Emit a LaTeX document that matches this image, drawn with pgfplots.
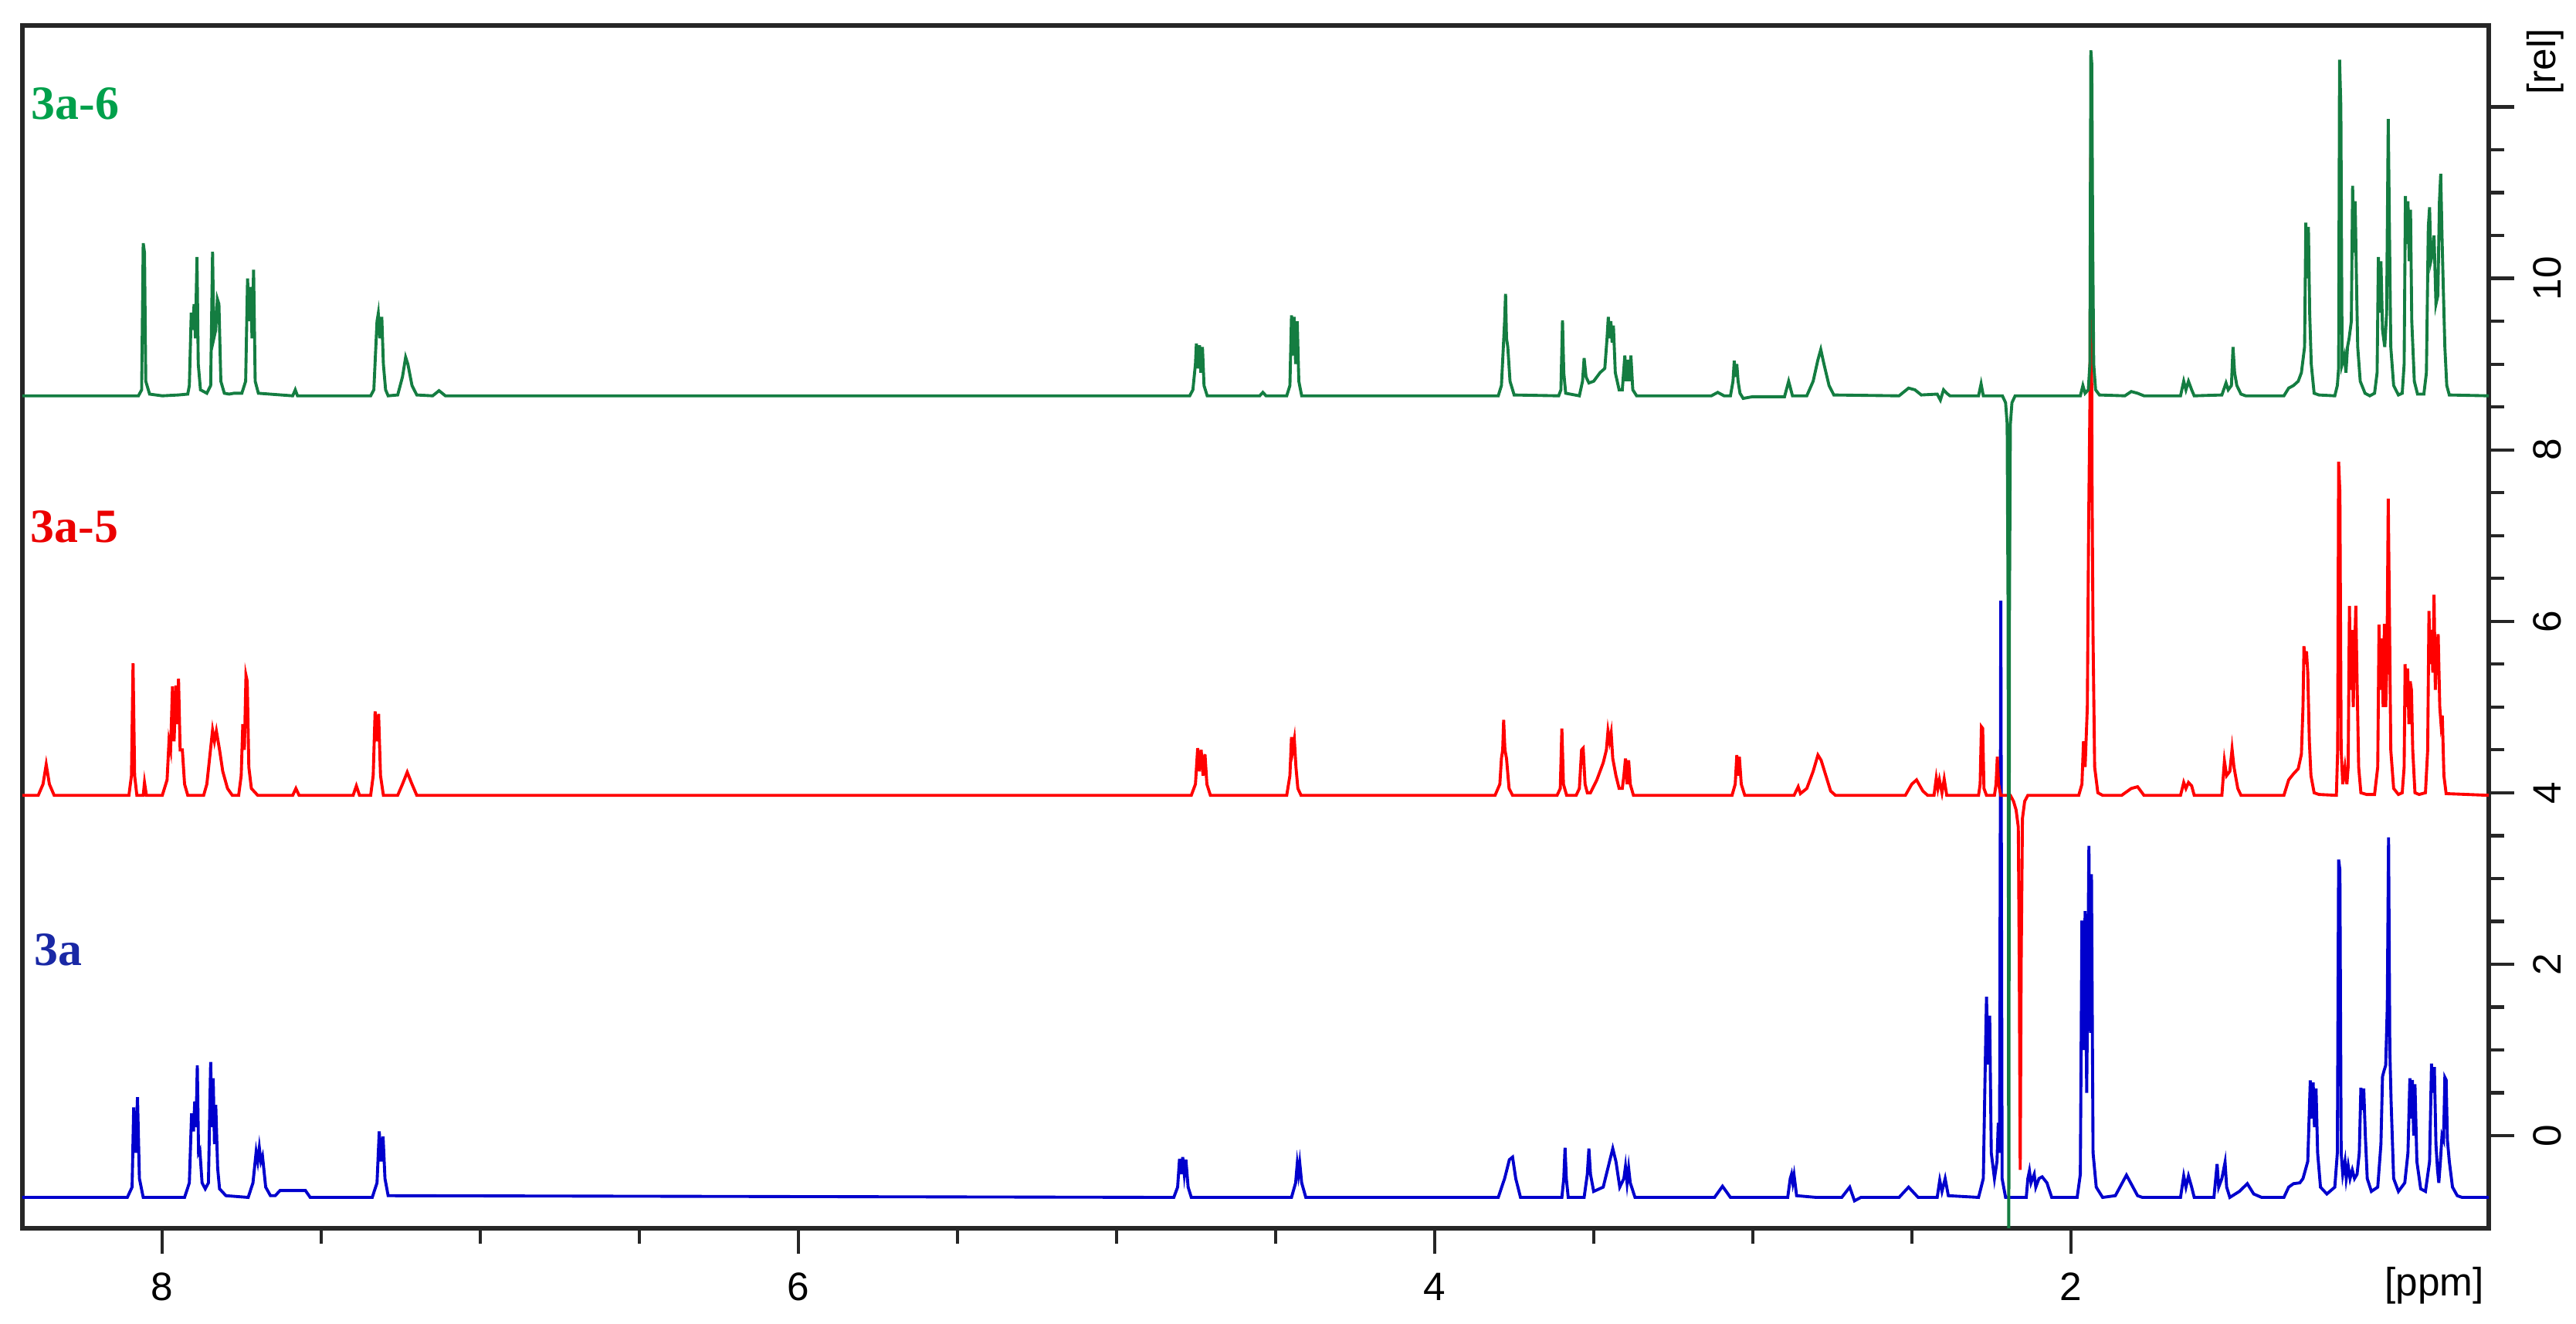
\documentclass[border=0pt]{standalone}
\usepackage{fontspec}
\setsansfont{Liberation Sans}
\newfontfamily\lblfont{Liberation Serif}
\usepackage{pgfplots}
\pgfplotsset{compat=1.18}
\usetikzlibrary{calc}
\definecolor{specgreen}{RGB}{20,125,65}
\definecolor{specred}{RGB}{255,0,0}
\definecolor{specblue}{RGB}{0,0,205}
\definecolor{lblgreen}{RGB}{0,160,75}
\definecolor{lblred}{RGB}{235,0,0}
\definecolor{lblblue}{RGB}{25,40,165}
\begin{document}
\begin{tikzpicture}
\begin{axis}[
  scale only axis, width=15.97cm, height=7.79cm,
  x dir=reverse, xmin=0.686, xmax=8.44, ymin=-1.08, ymax=12.95,
  xtick={2,4,6,8}, minor x tick num=3,
  ytick={0,2,4,6,8,10,12}, yticklabels={0,2,4,6,8,10,{}}, minor y tick num=3,
  xtick pos=bottom, ytick pos=right, yticklabel pos=right,
  tick align=outside,
  major tick length=0.165cm, minor tick length=0.1cm,
  axis line style={line width=0.8pt, black!85},
  every tick/.style={line width=0.6pt, black!85},
  /pgf/number format/assume math mode=true,
  tick label style={font=\fontsize{7.3}{8}\selectfont\sffamily},
  yticklabel style={rotate=90, anchor=north},
  clip=true,
  every axis plot/.append style={no marks, line width=0.55pt},
]
% 3a (blue)
\addplot[specblue] coordinates {
(8.44,-0.72)(8.11,-0.72)(8.095,-0.6)(8.09,0.33)(8.084,-0.2)(8.078,0.45)(8.072,-0.5)(8.06,-0.72)
(7.93,-0.72)(7.915,-0.55)(7.908,0.26)(7.902,0.05)(7.898,0.40)(7.894,0.1)(7.89,0.82)(7.886,-0.2)(7.882,-0.17)(7.875,-0.55)(7.865,-0.62)
(7.855,-0.55)(7.848,0.86)(7.844,0.1)(7.840,0.67)(7.836,-0.1)(7.832,0.36)(7.826,-0.38)(7.82,-0.62)(7.80,-0.7)
(7.73,-0.72)(7.715,-0.55)(7.705,-0.19)(7.700,-0.3)(7.695,-0.14)(7.690,-0.3)(7.685,-0.24)(7.675,-0.6)(7.66,-0.7)
(7.645,-0.7)(7.63,-0.64)(7.55,-0.64)(7.535,-0.72)
(7.34,-0.72)(7.325,-0.55)(7.318,0.05)(7.312,-0.3)(7.306,-0.01)(7.300,-0.5)(7.29,-0.7)
(4.82,-0.72)(4.808,-0.6)(4.802,-0.27)(4.797,-0.45)(4.792,-0.25)(4.787,-0.45)(4.782,-0.28)(4.775,-0.6)(4.765,-0.72)
(4.45,-0.72)(4.437,-0.55)(4.432,-0.33)(4.428,-0.45)(4.424,-0.32)(4.418,-0.55)(4.405,-0.72)
(3.80,-0.72)(3.78,-0.5)(3.765,-0.28)(3.755,-0.25)(3.745,-0.5)(3.73,-0.72)
(3.60,-0.72)(3.594,-0.5)(3.59,-0.14)(3.586,-0.5)(3.58,-0.72)
(3.53,-0.72)(3.52,-0.45)(3.515,-0.15)(3.51,-0.45)(3.50,-0.65)(3.47,-0.6)(3.45,-0.3)(3.44,-0.15)(3.43,-0.3)(3.418,-0.6)
(3.405,-0.5)(3.40,-0.36)(3.395,-0.55)(3.39,-0.38)(3.385,-0.55)(3.37,-0.72)
(3.12,-0.72)(3.095,-0.59)(3.07,-0.72)
(2.89,-0.72)(2.882,-0.5)(2.878,-0.45)(2.874,-0.55)(2.87,-0.46)(2.862,-0.7)(2.80,-0.72)
(2.72,-0.72)(2.695,-0.6)(2.68,-0.76)(2.66,-0.72)
(2.54,-0.72)(2.51,-0.6)(2.48,-0.72)
(2.42,-0.72)(2.412,-0.52)(2.405,-0.65)(2.395,-0.5)(2.385,-0.7)
(2.29,-0.72)(2.275,-0.5)(2.27,0.6)(2.265,1.62)(2.26,0.83)(2.255,1.4)(2.25,-0.2)(2.24,-0.5)(2.232,-0.3)(2.228,0.15)(2.224,-0.2)(2.22,6.24)(2.216,-0.5)(2.205,-0.72)
(2.14,-0.72)(2.135,-0.5)(2.13,-0.41)(2.125,-0.55)(2.115,-0.45)(2.11,-0.6)(2.10,-0.5)(2.09,-0.48)(2.075,-0.55)(2.06,-0.72)
(1.98,-0.72)(1.97,-0.45)(1.965,2.51)(1.96,1.0)(1.955,2.62)(1.95,0.5)(1.943,3.38)(1.938,1.2)(1.935,3.05)(1.93,-0.2)(1.92,-0.6)(1.90,-0.72)
(1.86,-0.7)(1.825,-0.46)(1.79,-0.7)(1.775,-0.72)
(1.655,-0.72)(1.645,-0.47)(1.638,-0.6)(1.63,-0.47)(1.62,-0.6)(1.612,-0.72)
(1.55,-0.72)(1.54,-0.33)(1.535,-0.6)(1.525,-0.5)(1.515,-0.31)(1.51,-0.6)(1.50,-0.72)
(1.47,-0.65)(1.445,-0.56)(1.425,-0.68)(1.40,-0.72)
(1.33,-0.72)(1.315,-0.6)(1.30,-0.56)(1.28,-0.55)(1.27,-0.5)(1.255,-0.3)(1.25,0.3)(1.247,0.645)(1.243,0.2)(1.238,0.62)(1.234,0.1)(1.229,0.55)(1.224,-0.2)(1.215,-0.6)
(1.195,-0.68)(1.17,-0.6)(1.162,-0.2)(1.158,3.22)(1.154,3.1)(1.15,-0.2)(1.145,-0.45)(1.138,-0.3)(1.134,-0.5)(1.128,-0.35)(1.122,-0.5)(1.115,-0.4)(1.108,-0.5)(1.1,-0.45)
(1.093,-0.2)(1.088,0.56)(1.084,0.3)(1.079,0.55)(1.074,0.0)(1.068,-0.5)(1.055,-0.65)(1.035,-0.6)
(1.025,-0.1)(1.02,0.69)(1.015,0.76)(1.01,0.82)(1.005,1.5)(1.001,3.48)(0.997,1.0)(0.993,0.4)(0.985,-0.5)(0.97,-0.65)
(0.95,-0.55)(0.94,-0.2)(0.934,0.67)(0.93,0.2)(0.926,0.65)(0.922,0.0)(0.918,0.6)(0.912,-0.3)(0.90,-0.62)
(0.885,-0.65)(0.872,-0.3)(0.866,0.84)(0.862,0.5)(0.857,0.80)(0.852,-0.1)(0.847,-0.4)(0.843,-0.55)(0.838,-0.3)(0.833,0.0)(0.828,-0.05)(0.824,0.68)(0.82,0.65)(0.816,-0.05)(0.81,-0.3)(0.80,-0.6)(0.785,-0.7)(0.77,-0.72)(0.686,-0.72)
};
% 3a-5 (red)
\addplot[specred] coordinates {
(8.44,3.97)(8.39,3.97)(8.375,4.1)(8.365,4.33)(8.355,4.1)(8.34,3.97)
(8.105,3.97)(8.097,4.2)(8.092,5.51)(8.087,4.2)(8.08,3.97)(8.06,3.97)(8.056,4.12)(8.05,3.97)(8.0,3.97)
(7.985,4.15)(7.979,4.6)(7.974,4.5)(7.968,5.24)(7.963,4.6)(7.957,5.25)(7.953,4.8)(7.949,5.33)(7.944,4.5)(7.937,4.5)(7.93,4.1)(7.92,3.97)
(7.87,3.97)(7.86,4.1)(7.85,4.45)(7.842,4.73)(7.836,4.6)(7.83,4.72)(7.82,4.5)(7.81,4.25)(7.795,4.05)(7.78,3.97)
(7.76,3.97)(7.752,4.2)(7.747,4.8)(7.742,4.5)(7.737,5.37)(7.733,5.3)(7.728,4.3)(7.72,4.05)(7.70,3.97)
(7.59,3.97)(7.58,4.05)(7.57,3.97)(7.40,3.97)(7.39,4.08)(7.38,3.97)
(7.345,3.97)(7.337,4.2)(7.331,4.95)(7.326,4.6)(7.32,4.92)(7.314,4.2)(7.305,3.97)
(7.26,3.97)(7.245,4.1)(7.23,4.24)(7.215,4.1)(7.20,3.97)
(4.765,3.97)(4.752,4.1)(4.745,4.52)(4.74,4.25)(4.734,4.5)(4.728,4.2)(4.722,4.45)(4.716,4.1)(4.705,3.97)
(4.465,3.97)(4.455,4.2)(4.45,4.65)(4.446,4.5)(4.441,4.62)(4.436,4.3)(4.43,4.05)(4.42,3.97)
(3.81,3.97)(3.795,4.1)(3.79,4.4)(3.786,4.5)(3.783,4.85)(3.779,4.5)(3.774,4.4)(3.766,4.05)(3.755,3.97)
(3.615,3.97)(3.605,4.05)(3.6,4.75)(3.595,4.1)(3.585,3.97)
(3.555,3.97)(3.545,4.05)(3.538,4.5)(3.533,4.52)(3.527,4.1)(3.52,4.0)
(3.51,4.0)(3.49,4.15)(3.47,4.35)(3.46,4.5)(3.455,4.72)(3.45,4.6)(3.445,4.7)(3.44,4.4)(3.43,4.2)(3.42,4.05)(3.41,4.05)
(3.405,4.2)(3.4,4.4)(3.395,4.1)(3.39,4.38)(3.385,4.1)(3.375,3.97)
(3.065,3.97)(3.055,4.1)(3.05,4.44)(3.046,4.2)(3.042,4.42)(3.036,4.1)(3.025,3.97)
(2.87,3.97)(2.857,4.07)(2.85,3.99)(2.83,4.05)(2.81,4.25)(2.795,4.44)(2.785,4.38)(2.77,4.2)(2.755,4.02)(2.74,3.97)
(2.52,3.97)(2.5,4.1)(2.485,4.15)(2.465,4.02)(2.45,3.97)
(2.43,3.97)(2.423,4.17)(2.418,4.05)(2.413,4.15)(2.405,4.0)(2.398,4.16)(2.39,3.97)
(2.29,3.97)(2.285,4.1)(2.281,4.77)(2.277,4.75)(2.273,4.05)(2.265,3.97)
(2.24,3.97)(2.235,4.1)(2.231,4.42)(2.227,4.1)(2.22,3.97)
(2.19,3.97)(2.18,3.9)(2.172,3.8)(2.165,3.6)(2.162,2.0)(2.159,-0.4)(2.156,2.0)(2.152,3.7)(2.145,3.9)(2.135,3.97)
(1.975,3.97)(1.965,4.1)(1.96,4.6)(1.955,4.3)(1.948,5.0)(1.944,7.08)(1.94,8.5)(1.937,11.45)(1.933,7.5)(1.93,5.8)(1.925,4.3)(1.915,4.0)(1.90,3.97)
(1.84,3.97)(1.81,4.05)(1.79,4.07)(1.77,3.97)
(1.655,3.97)(1.645,4.12)(1.638,4.05)(1.63,4.12)(1.62,4.08)(1.612,3.97)
(1.525,3.97)(1.517,4.37)(1.51,4.2)(1.50,4.25)(1.493,4.51)(1.487,4.3)(1.475,4.05)(1.465,3.97)
(1.33,3.97)(1.315,4.15)(1.30,4.22)(1.285,4.28)(1.275,4.45)(1.27,5.0)(1.267,5.71)(1.263,5.5)(1.259,5.65)(1.255,5.4)(1.25,4.6)(1.245,4.2)(1.235,4.0)(1.22,3.98)
(1.165,3.97)(1.161,4.5)(1.158,7.86)(1.154,7.5)(1.15,4.5)(1.145,4.1)(1.138,4.3)(1.132,4.1)
(1.128,4.3)(1.124,6.18)(1.12,5.2)(1.116,5.9)(1.112,5.0)(1.108,5.6)(1.104,6.18)(1.1,5.3)(1.095,4.3)(1.088,4.0)(1.07,3.98)
(1.045,3.98)(1.035,4.3)(1.031,5.96)(1.027,5.2)(1.022,5.8)(1.018,5.0)(1.014,5.97)(1.01,5.0)(1.006,5.5)(1.002,7.43)(0.998,6.0)(0.994,4.5)(0.985,4.05)(0.97,3.98)
(0.958,4.0)(0.952,4.3)(0.949,5.5)(0.945,5.0)(0.941,5.45)(0.937,4.8)(0.933,5.3)(0.929,5.2)(0.925,4.5)(0.918,4.0)(0.905,3.98)
(0.885,4.0)(0.878,4.5)(0.874,6.12)(0.87,5.5)(0.866,5.9)(0.862,5.4)(0.858,6.31)(0.854,5.2)(0.849,5.7)(0.845,5.85)(0.84,5.0)(0.836,4.8)(0.832,4.9)(0.827,4.2)(0.82,3.99)(0.686,3.97)
};
% 3a-6 (green)
\addplot[specgreen] coordinates {
(8.44,8.63)(8.075,8.63)(8.065,8.7)(8.06,10.41)(8.056,10.3)(8.052,8.8)(8.04,8.65)(8.0,8.63)(7.95,8.64)(7.92,8.65)
(7.915,8.75)(7.909,9.6)(7.905,9.4)(7.9,9.7)(7.896,9.3)(7.891,10.25)(7.887,9.0)(7.88,8.7)
(7.86,8.66)(7.848,8.75)(7.842,10.31)(7.838,9.3)(7.832,9.4)(7.827,9.76)(7.822,9.7)(7.816,8.8)(7.805,8.66)(7.79,8.65)(7.775,8.66)
(7.75,8.66)(7.738,8.8)(7.732,10.0)(7.727,9.5)(7.722,9.9)(7.718,9.3)(7.713,10.1)(7.708,8.8)(7.698,8.66)
(7.59,8.63)(7.582,8.7)(7.575,8.63)
(7.345,8.63)(7.335,8.7)(7.325,9.5)(7.321,9.59)(7.316,9.3)(7.31,9.55)(7.305,9.0)(7.298,8.7)(7.29,8.63)
(7.26,8.64)(7.245,8.85)(7.235,9.08)(7.228,9.0)(7.215,8.75)(7.2,8.64)
(7.15,8.63)(7.13,8.69)(7.11,8.63)
(4.77,8.63)(4.76,8.7)(4.752,9.0)(4.749,9.24)(4.745,8.95)(4.739,9.22)(4.735,8.9)(4.73,9.2)(4.725,8.75)(4.715,8.63)
(4.55,8.63)(4.54,8.67)(4.53,8.63)
(4.465,8.63)(4.455,8.75)(4.45,9.57)(4.446,9.1)(4.442,9.55)(4.437,9.0)(4.432,9.5)(4.427,8.8)(4.418,8.63)
(3.80,8.63)(3.79,8.75)(3.784,9.2)(3.78,9.5)(3.777,9.82)(3.774,9.3)(3.77,9.2)(3.763,8.8)(3.75,8.64)
(3.61,8.63)(3.603,8.7)(3.598,9.51)(3.594,8.9)(3.588,8.66)
(3.545,8.63)(3.535,8.8)(3.53,9.07)(3.524,8.85)(3.515,8.78)
(3.50,8.8)(3.48,8.9)(3.465,8.95)(3.458,9.3)(3.454,9.55)(3.45,9.3)(3.446,9.5)(3.442,9.25)(3.438,9.45)(3.432,8.9)(3.42,8.7)
(3.41,8.7)(3.402,9.1)(3.398,8.8)(3.393,9.05)(3.388,8.8)(3.383,9.1)(3.377,8.7)(3.365,8.63)
(3.13,8.63)(3.11,8.67)(3.09,8.63)
(3.07,8.63)(3.062,8.8)(3.058,9.04)(3.054,8.85)(3.05,9.0)(3.046,8.8)(3.04,8.66)(3.03,8.6)(3.0,8.62)
(2.9,8.62)(2.887,8.8)(2.875,8.63)
(2.83,8.63)(2.81,8.8)(2.795,9.05)(2.786,9.17)(2.776,9.0)(2.76,8.75)(2.745,8.64)
(2.54,8.63)(2.51,8.72)(2.49,8.7)(2.47,8.64)
(2.42,8.65)(2.41,8.58)(2.4,8.7)(2.39,8.66)(2.38,8.63)
(2.29,8.63)(2.282,8.77)(2.275,8.63)
(2.215,8.63)(2.205,8.55)(2.2,8.3)(2.197,6.0)(2.195,-2.0)(2.193,6.0)(2.19,8.3)(2.185,8.55)(2.175,8.63)
(1.97,8.63)(1.962,8.75)(1.955,8.66)(1.945,8.7)(1.94,9.0)(1.937,12.66)(1.934,12.5)(1.931,10.35)(1.928,9.0)(1.922,8.7)(1.91,8.64)
(1.83,8.63)(1.81,8.68)(1.79,8.66)(1.77,8.63)
(1.655,8.63)(1.645,8.8)(1.638,8.7)(1.63,8.8)(1.62,8.7)(1.612,8.63)
(1.525,8.64)(1.512,8.78)(1.505,8.7)(1.495,8.75)(1.49,9.2)(1.485,8.9)(1.478,8.75)(1.465,8.65)(1.45,8.63)
(1.33,8.63)(1.315,8.72)(1.30,8.75)(1.285,8.8)(1.275,8.9)(1.265,9.2)(1.261,10.65)(1.257,10.0)(1.253,10.6)(1.249,9.6)(1.244,9.0)(1.235,8.66)(1.22,8.64)
(1.17,8.63)(1.162,8.75)(1.158,8.95)(1.155,12.55)(1.151,12.0)(1.147,9.0)(1.14,9.1)(1.135,8.9)(1.13,9.2)
(1.125,9.3)(1.118,9.5)(1.114,11.08)(1.11,10.3)(1.106,10.9)(1.102,10.0)(1.098,9.2)(1.09,8.8)(1.075,8.66)(1.06,8.63)
(1.045,8.66)(1.037,8.9)(1.033,10.25)(1.029,9.6)(1.025,10.2)(1.02,9.4)(1.013,9.2)(1.007,9.6)(1.002,11.86)(0.998,10.5)(0.994,9.2)(0.985,8.75)(0.97,8.64)
(0.958,8.66)(0.952,9.0)(0.948,10.96)(0.944,10.4)(0.94,10.9)(0.936,10.2)(0.932,10.8)(0.928,9.5)(0.92,8.8)(0.91,8.65)
(0.89,8.65)(0.882,8.9)(0.876,10.6)(0.872,10.83)(0.868,10.2)(0.862,10.3)(0.858,10.5)(0.852,9.7)(0.846,9.8)(0.841,10.9)(0.837,11.22)(0.833,10.5)(0.829,9.9)(0.824,9.2)(0.818,8.75)(0.81,8.64)(0.686,8.63)
};
\node[anchor=west, inner sep=0pt, text=lblgreen, font=\fontsize{8.8}{10}\selectfont\lblfont\bfseries] at (axis cs:8.415,12.04) {3a-6};
\node[anchor=west, inner sep=0pt, text=lblred, font=\fontsize{8.8}{10}\selectfont\lblfont\bfseries] at (axis cs:8.417,7.1) {3a-5};
\node[anchor=west, inner sep=0pt, text=lblblue, font=\fontsize{8.8}{10}\selectfont\lblfont\bfseries] at (axis cs:8.405,2.17) {3a};
\end{axis}
\node[rotate=90, inner sep=0pt, font=\fontsize{7.3}{8}\selectfont\sffamily] at ($(current axis.north east)+(0.365cm,-0.235cm)$) {[rel]};
\node[anchor=north east, inner sep=0pt, font=\fontsize{7.3}{8}\selectfont\sffamily] at ($(current axis.south east)+(-0.025cm,-0.245cm)$) {[ppm]};
\pgfresetboundingbox
\path ($(current axis.south west)+(-0.145cm,-0.615cm)$) rectangle ($(current axis.north east)+(0.565cm,0.165cm)$);
\end{tikzpicture}
\end{document}
